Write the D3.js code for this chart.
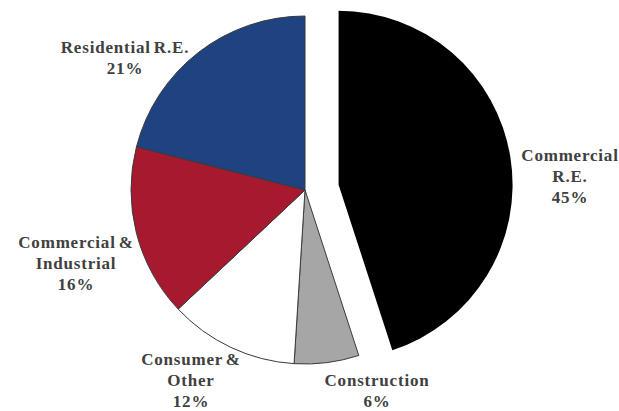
<!DOCTYPE html>
<html>
<head>
<meta charset="utf-8">
<script src="https://cdn.jsdelivr.net/npm/d3@7"></script>
<style>
  html, body { margin: 0; padding: 0; background: #fff; }
  svg { display: block; }
  .label { font-family: "Liberation Serif", "DejaVu Serif", "Times New Roman", serif; font-weight: bold; }
</style>
</head>
<body>
<svg id="chart" width="619" height="411"></svg>
<script>
// Loan portfolio composition, percent of total
const categories = ["Commercial R.E.", "Construction", "Consumer & Other", "Commercial & Industrial", "Residential R.E."];
const shares = [45, 6, 12, 16, 21];
const labelLines = [
  ["Commercial", "R.E.", "45%"],
  ["Construction", "6%"],
  ["Consumer &", "Other", "12%"],
  ["Commercial &", "Industrial", "16%"],
  ["Residential R.E.", "21%"]
];

// Layout
const width = 619, height = 411;
const cx = 305, cy = 190, radius = 174;
const explode = 34;            // offset of the pulled-out slice
const colors = ["#000000", "#a6a6a6", "#ffffff", "#a6192e", "#1f4280"];
// label anchor: centre x and first baseline y
const labelAnchors = [
  [570, 161],
  [377, 386],
  [191, 365],
  [76, 248],
  [125, 53]
];
const lineGap = 21;

const svg = d3.select("#chart");

const pie = d3.pie().sort(null).value(d => d)(shares);
const arc = d3.arc().innerRadius(0).outerRadius(radius);

const g = svg.append("g").attr("transform", `translate(${cx},${cy})`);

g.selectAll("path.slice")
  .data(pie)
  .join("path")
  .attr("class", "slice")
  .attr("transform", (d, i) => {
    if (i !== 0) return null;
    const a = (d.startAngle + d.endAngle) / 2;
    return `translate(${explode * Math.sin(a)},${-explode * Math.cos(a)})`;
  })
  .attr("d", arc)
  .attr("fill", (d, i) => colors[i])
  .attr("stroke", (d, i) => i === 0 ? "none" : "#3a3a3a")
  .attr("stroke-width", 1);

const labels = svg.selectAll("text.label")
  .data(categories)
  .join("text")
  .attr("class", "label")
  .attr("text-anchor", "middle")
  .attr("font-size", 17)
  .attr("letter-spacing", 0.8)
  .attr("word-spacing", -2)
  .attr("fill", "#404040");

labels.each(function (name, i) {
  const t = d3.select(this);
  labelLines[i].forEach((line, k) => {
    t.append("tspan")
      .attr("x", labelAnchors[i][0])
      .attr("y", labelAnchors[i][1] + k * lineGap)
      .text(line);
  });
});
</script>
</body>
</html>
